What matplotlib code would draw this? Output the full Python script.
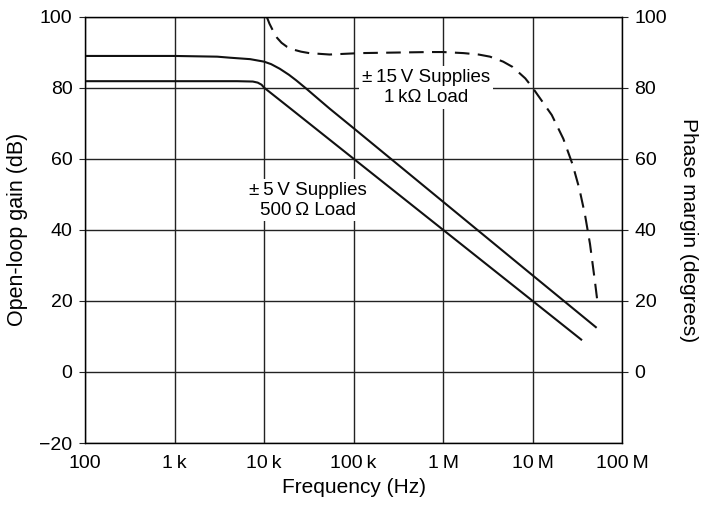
import numpy as np
import matplotlib
matplotlib.use("Agg")
import matplotlib.pyplot as plt

plt.rcParams['font.family'] = ['Liberation Sans', 'DejaVu Sans']

# gain, +-5 V supplies / 500 ohm load (Hz, dB)
freq_5v = [100, 1e3, 5e3, 7.5e3, 8.5e3, 9.4e3, 1e4, 2e4, 1e5, 1e6, 1e7, 3.5e7]
gain_5v = [81.8, 81.8, 81.8, 81.7, 81.4, 80.8, 80.0, 74.0, 60.0, 40.0, 20.0, 9.1]

# gain, +-15 V supplies / 1 kohm load (Hz, dB)
freq_15v = [100, 1e3, 3e3, 4.2e3, 7e3, 1e4, 1.2e4, 1.5e4, 1.9e4, 2.3e4, 3e4, 4e4,
            5.4e4, 1e5, 1e6, 1e7, 5.1e7]
gain_15v = [88.9, 88.9, 88.7, 88.4, 88.0, 87.3, 86.6, 85.3, 83.6, 82.0, 79.6, 76.9,
            74.1, 68.6, 47.9, 27.2, 12.6]

# phase margin, +-15 V (Hz, degrees)
freq_pm = [1.07e4, 1.15e4, 1.26e4, 1.4e4, 1.57e4, 1.8e4, 2.12e4, 2.6e4, 3.2e4, 5.4e4,
           1.18e5, 7e5, 1e6, 1.7e6, 2.5e6, 3.35e6, 4.7e6, 6e6, 8.3e6, 1e7,
           1.64e7, 2.21e7, 2.81e7, 3.34e7, 3.86e7, 4.39e7, 5.01e7, 5.3e7]
phase_pm = [100, 98.0, 96.0, 94.0, 92.6, 91.5, 90.7, 90.1, 89.7, 89.3,
            89.7, 90.0, 90.0, 89.7, 89.3, 88.7, 87.3, 85.8, 82.6, 80.0,
            72.3, 65.6, 58.3, 51.5, 44.2, 36.0, 25.0, 20.0]

x_ticks = [1e2, 1e3, 1e4, 1e5, 1e6, 1e7, 1e8]
x_labels = ['100', '1\u2009k', '10\u2009k', '100\u2009k', '1\u2009M', '10\u2009M', '100\u2009M']
gain_ticks = [-20, 0, 20, 40, 60, 80, 100]
phase_ticks = [0, 20, 40, 60, 80, 100]

fig = plt.figure(figsize=(7.09, 5.08), dpi=100)
ax = fig.add_axes([85 / 709, 1 - 443 / 508, 537 / 709, 426.5 / 508])

line_kw = dict(color='#111111', lw=1.5)
ax.plot(freq_5v, gain_5v, **line_kw)
ax.plot(freq_15v, gain_15v, **line_kw)

ax.set_xscale('log')
ax.set_xlim(1e2, 1e8)
ax.set_ylim(-20, 100)
ax.set_xticks(x_ticks)
ax.set_xticklabels(x_labels)
ax.minorticks_off()
ax.set_yticks(gain_ticks)
ax.set_yticklabels(['\u2212' + '20'] + [str(t) for t in gain_ticks[1:]])
ax.grid(True, color='#222222', lw=1.0)
for s in ax.spines.values():
    s.set_color('#222222')
    s.set_linewidth(1.0)
ax.tick_params(axis='both', labelsize=14, length=4, color='#222222', pad=5)
ax.tick_params(axis='x', length=0, pad=9)
ax.set_xlabel('Frequency (Hz)', fontsize=15, labelpad=4)
ax.set_ylabel('Open-loop gain (dB)', fontsize=15.5, labelpad=8)

ax2 = ax.twinx()
ax2.plot(freq_pm, phase_pm, color='#111111', lw=1.5, dashes=(7, 4))
ax2.set_ylim(-20, 100)
ax2.set_yticks(phase_ticks)
ax2.tick_params(axis='y', labelsize=14, length=4, color='#222222', pad=5)
ax2.set_ylabel('Phase margin (degrees)', fontsize=15, rotation=270, labelpad=22)

box = dict(facecolor='white', edgecolor='none', pad=2)
ax2.text(6.4e5, 80.0, '\u00b1\u200915\u2009V Supplies\n1\u2009k\u03a9 Load',
         fontsize=13.5, ha='center', va='center', linespacing=1.2, bbox=box, zorder=5)
ax2.text(3.1e4, 48.3, '\u00b1\u20095\u2009V Supplies\n500\u2009\u03a9 Load',
         fontsize=13.5, ha='center', va='center', linespacing=1.2, bbox=box, zorder=5)

fig.savefig('out.png', dpi=100)
